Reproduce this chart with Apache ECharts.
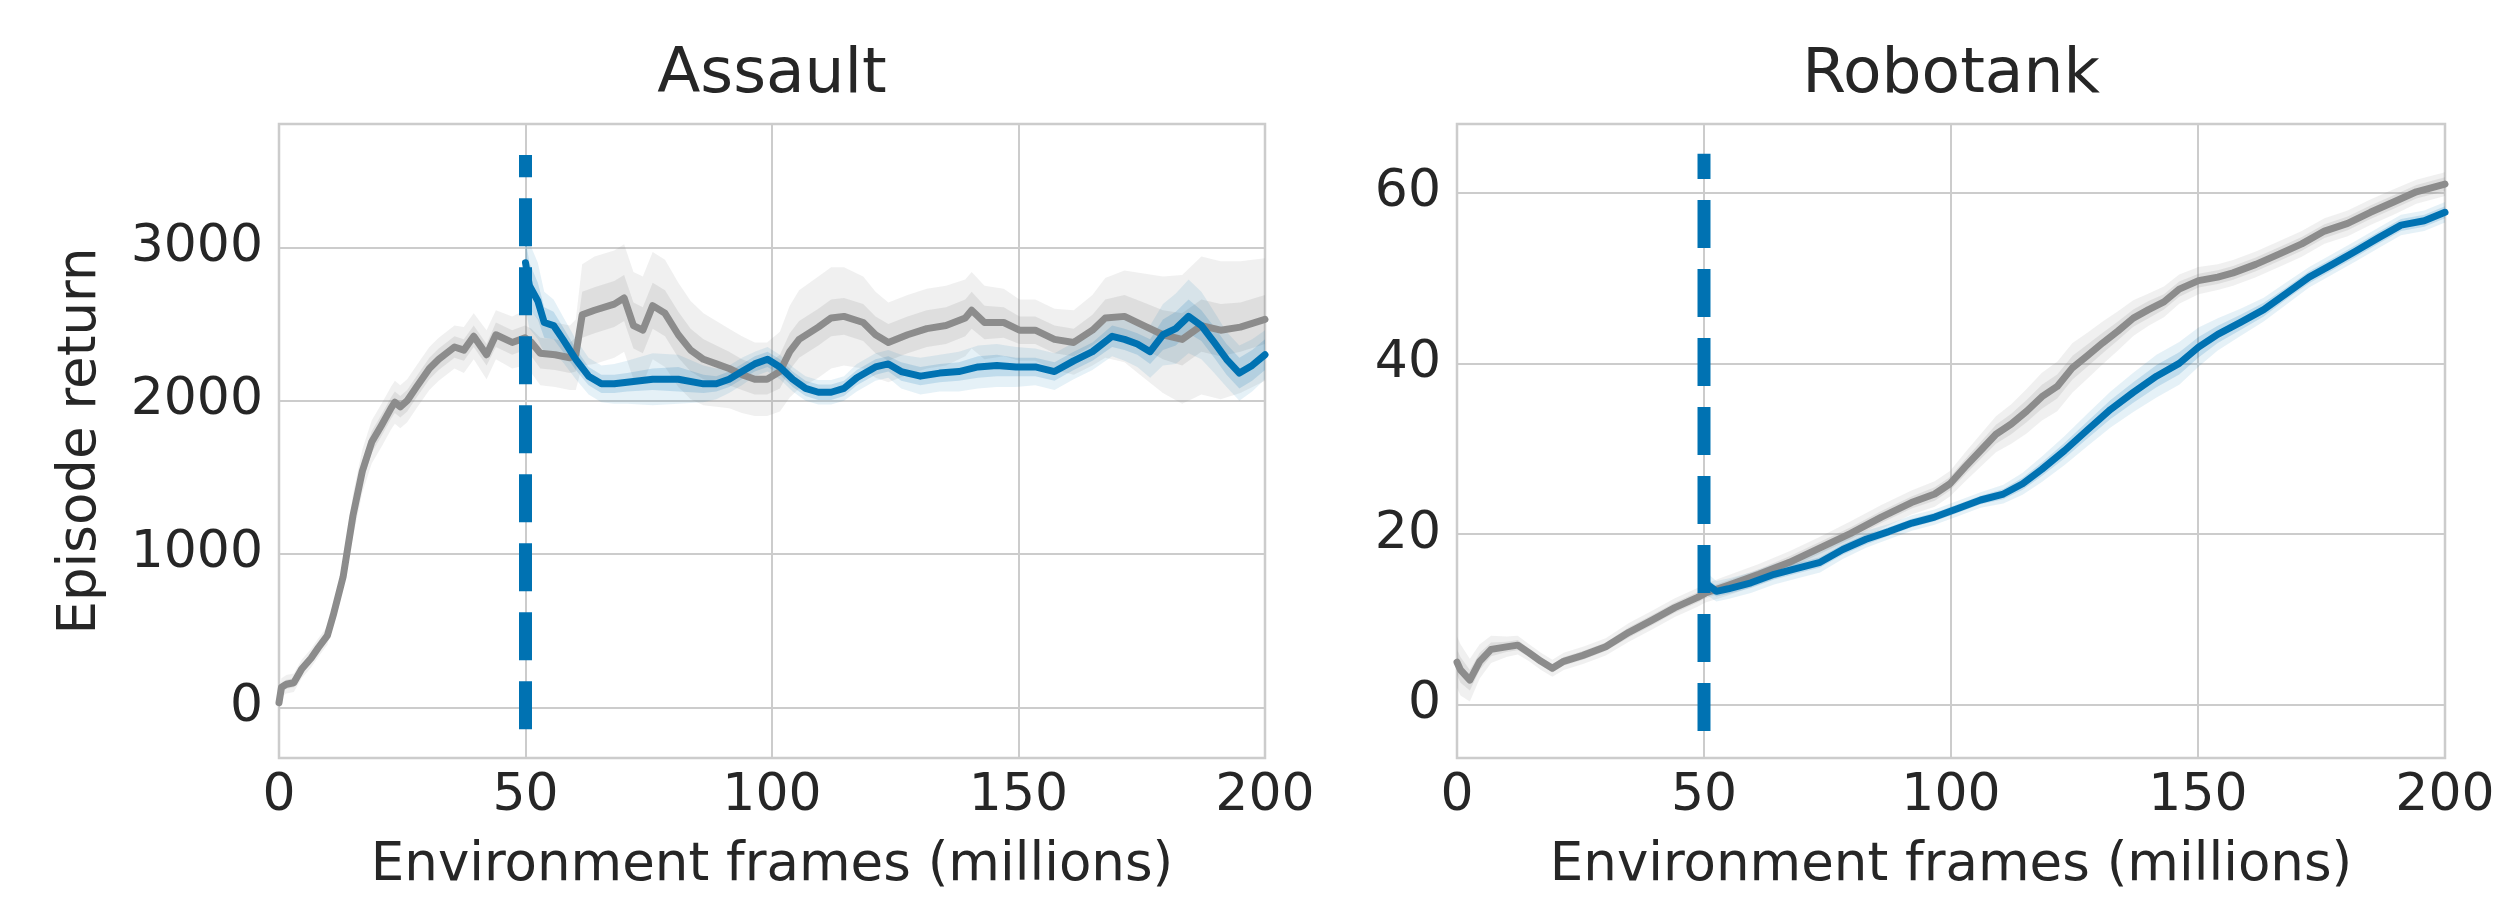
<!DOCTYPE html>
<html>
<head>
<meta charset="utf-8">
<script src="https://cdn.jsdelivr.net/npm/echarts@6/dist/echarts.min.js"></script>
<style>html,body{margin:0;padding:0;background:#fff}#c{width:2499px;height:898px}</style>
</head>
<body>
<div id="c"></div>
<script>
// ---------- Data ----------
const xTicks = [0, 50, 100, 150, 200];
const assaultYTicks = [0, 1000, 2000, 3000];
const robotankYTicks = [0, 20, 40, 60];
const titles = ['Assault', 'Robotank'];
const xLabel = 'Environment frames (millions)';
const yLabel = 'Episode return';
const switchPoint = 50;
const assaultDashRange = [-143, 3603];
const robotankDashRange = [-3.05, 64.57];

// Assault - gray (baseline)
const assaultGrayX = [0,0.5,1.5,3,4.6,6.5,8,9.8,11,13,
  15,16.9,18.8,20.8,22.7,23.5,24.6,26,27.9,30.5,
  32.4,35.6,37.5,39.5,42.1,44,47.3,49.9,51.2,53,
  56,59,60.2,61.5,64,68,70,71.9,73.8,75.8,
  78.3,81,83.5,86.1,88.7,91.3,93.9,96.5,99,101.6,
  103.6,105.5,109.4,112,114.6,118.5,121,123.6,127.5,131.4,
  135.3,139.2,140.5,143.1,147,150.2,153.4,157.3,161.2,165,
  167.6,171.5,175.4,179.3,183.2,187.1,191,195,200];
const assaultGrayY = [30,130,150,160,250,320,390,467,600,850,
  1250,1540,1730,1840,1950,1990,1960,2000,2090,2210,
  2270,2350,2330,2420,2300,2430,2380,2410,2380,2310,
  2300,2280,2300,2560,2590,2630,2670,2490,2460,2620,
  2570,2430,2330,2270,2240,2210,2170,2140,2140,2190,
  2320,2400,2480,2540,2550,2510,2430,2380,2430,2470,
  2490,2540,2590,2510,2510,2460,2460,2400,2380,2460,
  2540,2550,2490,2430,2400,2490,2460,2480,2530];
const assaultGrayInner = [30,30,30,30,30,30,30,30,30,30,
  70,70,70,70,70,70,70,70,70,70,
  70,70,70,70,70,80,80,80,90,100,
  100,100,110,150,150,150,150,150,150,150,
  150,150,140,130,120,110,100,100,100,110,
  120,120,120,120,120,120,120,120,120,120,
  120,120,120,110,100,90,90,90,90,100,
  120,140,150,160,170,170,170,160,160];
const assaultGrayOuter = [60,60,60,60,60,60,60,60,60,60,
  140,140,140,140,140,140,140,140,140,140,
  140,140,150,150,160,160,170,180,200,210,
  210,210,230,330,350,350,350,350,350,350,
  350,340,320,300,280,260,250,240,240,260,
  300,320,330,330,320,300,280,260,260,260,
  260,250,250,240,220,200,200,200,210,230,
  260,300,340,380,420,450,450,430,400];

// Assault - blue (after switch)
const assaultBlueX = [50,50.8,52.5,53.8,55.7,57.6,60.2,62.8,65.4,68,
  70.6,75.8,81,86.1,88.7,91.3,93.9,96.5,99.1,101.6,
  104.2,106.8,109.4,112,114.6,117.2,121,123.6,126.2,130.1,
  134,137.9,141.8,145.6,149.5,153.4,157.3,161.2,165,169,
  171.5,174.1,176.7,179.3,181.9,184.5,187.1,189.7,192.2,194.8,
  197.4,200];
const assaultBlueY = [2900,2750,2650,2510,2490,2400,2270,2160,2110,2110,
  2120,2140,2140,2110,2110,2140,2190,2240,2270,2220,
  2140,2080,2055,2055,2080,2150,2220,2240,2190,2160,
  2180,2190,2220,2230,2220,2220,2190,2260,2320,2420,
  2400,2370,2320,2430,2470,2550,2490,2380,2270,2180,
  2230,2300];
const assaultBlueInner = [150,150,120,100,90,80,70,60,60,60,
  60,70,80,60,50,50,50,50,50,50,
  50,50,50,50,50,50,50,50,60,60,
  60,60,70,70,60,60,60,60,60,70,
  70,70,80,100,110,110,100,100,100,100,
  100,100];
const assaultBlueOuter = [300,280,250,200,170,150,130,120,120,130,
  140,170,160,120,100,90,90,80,80,80,
  80,80,80,80,80,90,90,90,110,120,
  120,130,140,140,130,120,120,120,120,130,
  140,150,170,200,230,240,220,200,180,180,
  170,160];

// Robotank - gray
const robotankGrayX = [0,0.7,2.6,4.6,6.9,10,12.3,14.6,17,19.3,
  21.6,25.5,30.1,34.8,39.4,44.1,48.7,50.3,54.9,61.1,
  67.3,73.5,79.7,85.9,92,96.7,99.8,102.9,106,109.1,
  112.2,115.3,118.4,121.5,124.6,127.6,130.7,133.8,136.9,140,
  143.1,146.2,150.1,154,157.1,161.7,166.4,171,175.6,180.3,
  184.9,189.6,194.2,200];
const robotankGrayY = [5.0,4.1,2.9,5.1,6.5,6.8,7.0,6.1,5.1,4.3,
  5.1,5.8,6.8,8.5,9.9,11.4,12.6,13.1,14.0,15.3,
  16.7,18.4,20.1,22.0,23.7,24.7,25.9,27.9,29.8,31.7,
  32.9,34.4,36.1,37.3,39.5,40.9,42.4,43.8,45.3,46.3,
  47.2,48.7,49.7,50.1,50.6,51.6,52.8,54.0,55.5,56.4,
  57.7,58.9,60.1,61.0];
const robotankGrayInner = [1.5,1.5,1.2,1.0,0.8,0.6,0.6,0.5,0.5,0.5,
  0.5,0.5,0.5,0.6,0.6,0.6,0.6,0.6,0.6,0.6,
  0.7,0.7,0.7,0.7,0.7,0.8,0.8,0.9,1.0,1.1,
  1.2,1.3,1.4,1.4,1.4,1.3,1.2,1.1,1.0,1.0,
  0.9,0.9,0.8,0.8,0.8,0.8,0.8,0.8,0.8,0.8,
  0.8,0.8,0.8,0.8];
const robotankGrayOuter = [3.0,3.0,2.5,2.0,1.6,1.2,1.1,1.0,1.0,1.0,
  1.0,1.0,1.0,1.1,1.1,1.1,1.1,1.1,1.2,1.2,
  1.3,1.3,1.4,1.4,1.4,1.5,1.5,1.7,1.9,2.1,
  2.3,2.6,2.8,2.9,2.9,2.7,2.5,2.3,2.1,1.9,
  1.8,1.7,1.6,1.5,1.5,1.5,1.5,1.5,1.5,1.5,
  1.5,1.5,1.4,1.4];

// Robotank - blue
const robotankBlueX = [50,50.5,52.5,54.9,59.5,64.2,68.8,73.5,78.1,82.8,
  87.4,92.1,96.7,101.4,106,110.6,114.5,118.4,123,127.6,
  132.3,136.9,141.6,146.2,150.1,154,158.6,163.3,167.9,172.5,
  177.2,181.8,186.5,191.1,195.8,200];
const robotankBlueY = [15.5,14.2,13.3,13.6,14.3,15.3,16.0,16.7,18.2,19.4,
  20.3,21.3,22.0,23.0,24.0,24.7,25.9,27.6,29.8,32.2,
  34.6,36.6,38.5,40.0,41.9,43.4,44.8,46.3,48.2,50.1,
  51.6,53.1,54.7,56.2,56.7,57.7];
const robotankBlueInner = [0.8,0.7,0.6,0.6,0.6,0.6,0.6,0.6,0.6,0.6,
  0.5,0.5,0.5,0.5,0.5,0.6,0.7,0.8,0.9,1.0,
  1.1,1.2,1.3,1.3,1.2,1.0,0.9,0.8,0.7,0.7,
  0.7,0.7,0.7,0.7,0.7,0.7];
const robotankBlueOuter = [1.5,1.3,1.2,1.2,1.2,1.2,1.2,1.2,1.1,1.0,
  0.9,0.9,0.9,0.9,0.9,1.1,1.3,1.5,1.7,1.9,
  2.1,2.3,2.5,2.5,2.3,1.9,1.6,1.4,1.3,1.2,
  1.2,1.2,1.2,1.2,1.2,1.2];

// ---------- Styling ----------
const FONT = 'DejaVu Sans';
const TXT = '#262626';
const GRIDC = '#cccccc';
const GRAY = '#8c8c8c';
const BLUE = '#0072b2';

const chart = echarts.init(document.getElementById('c'), null, {renderer: 'canvas'});

function pairs(xs, ys) { return xs.map((x, i) => [x, ys[i]]); }

function bandSeries(idx, xs, ys, ws, fill, z) {
  return {
    type: 'custom', xAxisIndex: idx, yAxisIndex: idx, z: z, silent: true,
    clip: true,
    data: [[xs[0], ys[0]]],
    renderItem: function (params, api) {
      const top = xs.map((x, i) => api.coord([x, ys[i] + ws[i]]));
      const bot = xs.map((x, i) => api.coord([x, ys[i] - ws[i]])).reverse();
      return { type: 'polygon', shape: { points: top.concat(bot) }, style: { fill: fill } };
    }
  };
}

function lineSeries(idx, xs, ys, color, z) {
  return {
    type: 'line', xAxisIndex: idx, yAxisIndex: idx, z: z, silent: true,
    data: pairs(xs, ys), showSymbol: false, symbol: 'none', animation: false,
    lineStyle: { color: color, width: 7, join: 'round', cap: 'round' }
  };
}

function dashSeries(idx, range) {
  return {
    type: 'line', xAxisIndex: idx, yAxisIndex: idx, z: 10, silent: true,
    data: [[switchPoint, range[0]], [switchPoint, range[1]]],
    showSymbol: false, symbol: 'none', animation: false,
    lineStyle: { color: BLUE, width: 13, type: [48, 21], cap: 'butt' }
  };
}

function xAxis(idx) {
  return {
    type: 'value', gridIndex: idx, min: 0, max: 200, interval: 50,
    axisLine: { show: false }, axisTick: { show: false },
    axisLabel: { margin: 12, fontSize: 52, fontFamily: FONT, color: TXT, formatter: v => String(v) },
    splitLine: { show: true, lineStyle: { color: GRIDC, width: 2 } },
    name: xLabel, nameLocation: 'middle', nameGap: 82,
    nameTextStyle: { fontSize: 53, fontFamily: FONT, color: TXT }
  };
}

function yAxis(idx, min, max, ticks, name) {
  const a = {
    type: 'value', gridIndex: idx, min: min, max: max,
    axisLine: { show: false },
    axisTick: { show: false, customValues: ticks },
    axisLabel: { customValues: ticks, margin: 16, fontSize: 52, fontFamily: FONT, color: TXT, formatter: v => String(v) },
    splitLine: { show: true, lineStyle: { color: GRIDC, width: 2 } }
  };
  if (name) {
    a.name = name; a.nameLocation = 'middle'; a.nameGap = 171; a.nameRotate = 90;
    a.nameTextStyle = { fontSize: 53, fontFamily: FONT, color: TXT };
  }
  return a;
}

const option = {
  animation: false,
  backgroundColor: '#ffffff',
  grid: [
    { left: 279, top: 124, width: 986, height: 637, show: true, borderColor: GRIDC, borderWidth: 2.5, backgroundColor: '#ffffff' },
    { left: 1457, top: 124, width: 988, height: 637, show: true, borderColor: GRIDC, borderWidth: 2.5, backgroundColor: '#ffffff' }
  ],
  xAxis: [xAxis(0), xAxis(1)],
  yAxis: [
    yAxis(0, -331, 3805, assaultYTicks, yLabel),
    yAxis(1, -6.22, 68.04, robotankYTicks, null)
  ],
  graphic: [
    { type: 'text', x: 772, y: 76, silent: true,
      style: { text: titles[0], fontSize: 63, fontFamily: FONT, fill: TXT, align: 'center', verticalAlign: 'middle', textAlign: 'center', textVerticalAlign: 'middle' } },
    { type: 'text', x: 1951, y: 76, silent: true,
      style: { text: titles[1], fontSize: 63, fontFamily: FONT, fill: TXT, align: 'center', verticalAlign: 'middle', textAlign: 'center', textVerticalAlign: 'middle' } }
  ],
  series: [
    bandSeries(0, assaultGrayX, assaultGrayY, assaultGrayOuter, 'rgba(128,128,128,0.12)', 1),
    bandSeries(0, assaultGrayX, assaultGrayY, assaultGrayInner, 'rgba(128,128,128,0.16)', 2),
    bandSeries(0, assaultBlueX, assaultBlueY, assaultBlueOuter, 'rgba(0,114,178,0.10)', 3),
    bandSeries(0, assaultBlueX, assaultBlueY, assaultBlueInner, 'rgba(0,114,178,0.16)', 4),
    lineSeries(0, assaultGrayX, assaultGrayY, GRAY, 5),
    lineSeries(0, assaultBlueX, assaultBlueY, BLUE, 6),
    dashSeries(0, assaultDashRange),

    bandSeries(1, robotankGrayX, robotankGrayY, robotankGrayOuter, 'rgba(128,128,128,0.12)', 1),
    bandSeries(1, robotankGrayX, robotankGrayY, robotankGrayInner, 'rgba(128,128,128,0.16)', 2),
    bandSeries(1, robotankBlueX, robotankBlueY, robotankBlueOuter, 'rgba(0,114,178,0.10)', 3),
    bandSeries(1, robotankBlueX, robotankBlueY, robotankBlueInner, 'rgba(0,114,178,0.16)', 4),
    lineSeries(1, robotankGrayX, robotankGrayY, GRAY, 5),
    lineSeries(1, robotankBlueX, robotankBlueY, BLUE, 6),
    dashSeries(1, robotankDashRange)
  ]
};
chart.setOption(option);
</script>
</body>
</html>
